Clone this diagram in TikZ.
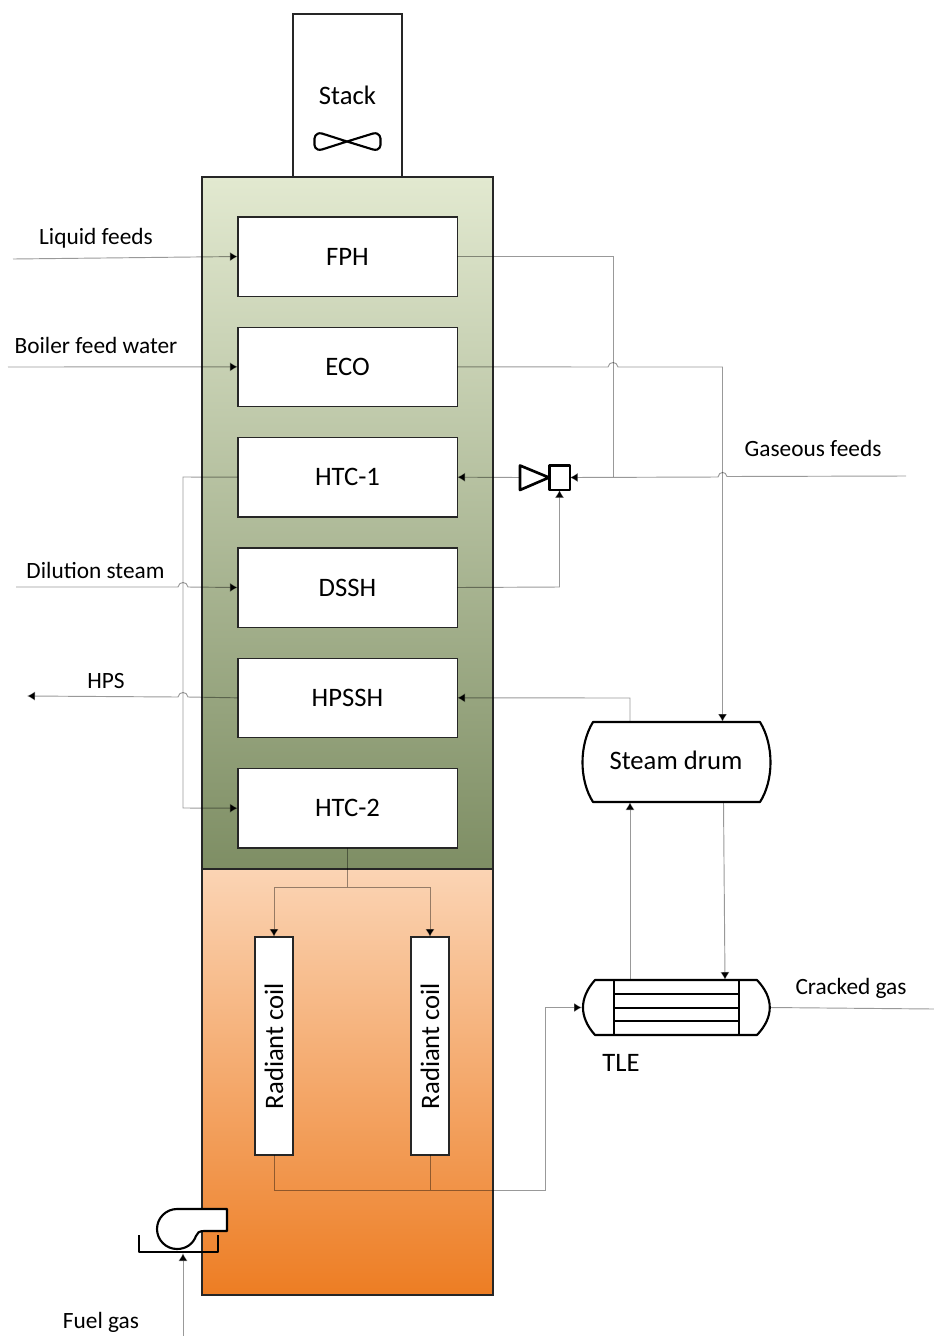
\documentclass[tikz,border=0pt]{standalone}
\usepackage{fontspec}
\setmainfont{Carlito}
\usetikzlibrary{positioning, arrows.meta, calc}
\definecolor{convtop}{RGB}{226,233,208}
\definecolor{convbottom}{RGB}{126,142,100}
\definecolor{radtop}{RGB}{251,212,180}
\definecolor{radbottom}{RGB}{237,125,35}

\begin{document}
\begin{tikzpicture}[
    x=0.75pt, y=-0.75pt,
    % Custom styles for the furnace blocks and labels
    section/.style={draw=black!85, line width=1pt, minimum width=218.25pt, inner sep=0pt, outer sep=0pt},
    block/.style={draw=black!85, fill=white, line width=1pt, minimum width=164.5pt, minimum height=59.5pt, inner sep=0pt, outer sep=0pt, font=\fontsize{20}{22}\selectfont},
    coil/.style={draw=black!85, fill=white, line width=1pt, minimum width=163.5pt, minimum height=28.5pt, inner sep=0pt, outer sep=0pt, rotate=90, font=\fontsize{20}{22}\selectfont},
    label/.style={font=\fontsize{17.5}{19}\selectfont},
    biglabel/.style={font=\fontsize{20}{22}\selectfont},
    % Thin grey pipes with solid black tips
    pipe/.style={draw=black, draw opacity=0.4, line width=0.7pt},
    feed/.style={pipe, -{Latex[black, length=6pt, width=7pt]}},
    equip/.style={draw=black, fill=white, line width=1.6pt, line join=round}
]
\useasboundingbox (0,0) rectangle (934,1336);

% ==========================================
% FURNACE: STACK AND SECTIONS
% ==========================================
\node[draw=black!85, line width=1pt, fill=white, minimum width=81.75pt, minimum height=122.25pt, inner sep=0pt] (stack) at (347.5,95.5) {};
\node[biglabel] (stack_title) at (347.5,95) {Stack};
\draw[equip, fill=none] (347,141.5) -- (322,133.5) .. controls (315,132) and (314,138) .. (314.5,141.5)
    .. controls (314,146) and (315,151) .. (322,149.5) -- (347,141.5) -- (373,133.5)
    .. controls (380,132) and (381,138) .. (380.5,141.5) .. controls (381,146) and (380,151) .. (373,149.5) -- cycle;

\node[section, minimum height=519pt, top color=convtop, bottom color=convbottom] (convection) at (347.5,523) {};
\node[section, minimum height=319.5pt, top color=radtop, bottom color=radbottom] (radiant) at (347.5,1082) {};

% ==========================================
% CONVECTION COILS
% ==========================================
\node[block] (FPH) at (347.5,256.5) {FPH};
\node[block, below=23.25pt of FPH] (ECO) {ECO};
\node[block, below=23.25pt of ECO] (HTC1) {HTC-1};
\node[block, below=23.25pt of HTC1] (DSSH) {DSSH};
\node[block, below=23.25pt of DSSH] (HPSSH) {HPSSH};
\node[block, below=23.25pt of HPSSH] (HTC2) {HTC-2};

% Radiant coils
\node[coil] (coil_left) at (274,1046) {Radiant coil};
\node[coil] (coil_right) at (430,1046) {Radiant coil};

% ==========================================
% EQUIPMENT ON THE RIGHT
% ==========================================
% Mixing valve
\node[equip, line width=2pt, minimum width=15.5pt, minimum height=18.5pt, inner sep=0pt, outer sep=0pt] (valve_box) at (559.5,477.5) {};
\draw[equip, line width=2pt] (520,465.5) -- (549,477.5) -- (520,490) -- cycle;
\coordinate (valve_in) at (520,477.5);

% Steam drum
\draw[equip] (593,722) -- (760,722) .. controls (774,745) and (774,780) .. (760,802)
    -- (593,802) .. controls (579,780) and (579,745) .. (593,722) -- cycle;
\node[biglabel] (drum) at (676,760) {Steam drum};

% TLE
\draw[equip] (595,980) -- (757,980) .. controls (774,998) and (774,1017) .. (757,1035)
    -- (595,1035) .. controls (579,1017) and (579,998) .. (595,980) -- cycle;
\draw[equip] (614,980) -- (614,1035);
\draw[equip] (738.9,980) -- (738.9,1035);
\draw[equip] (614,994) -- (738.9,994);
\draw[equip] (614,1008) -- (738.9,1008);
\draw[equip] (614,1021) -- (738.9,1021);
\node[biglabel] (tle) at (621,1063) {TLE};

% Blower and burner
\draw[equip] (177,1209) -- (227,1209) -- (227,1231) -- (204,1231) .. controls (199,1231) and (197,1233) .. (196,1236)
    .. controls (193,1244) and (186,1249) .. (177,1249) .. controls (166,1249) and (157,1240) .. (157,1229)
    .. controls (157,1218) and (166,1209) .. (177,1209) -- cycle;
\draw[equip, fill=none] (139,1235) -- (139,1252) -- (218,1252) -- (218,1235);

% ==========================================
% PIPES
% ==========================================
\coordinate (liquid_in) at (13,259);
\coordinate (bfw_in) at (8,367);
\coordinate (gas_in) at (906,476);
\coordinate (steam_in) at (16,587);
\coordinate (hps_out) at (27,696);
\coordinate (cracked_out) at (934,1009);
\coordinate (fuel_in) at (183,1336);

\draw[feed] (liquid_in) -- (FPH.west);
\draw[feed] (bfw_in) -- (ECO.west);
\draw[pipe] (FPH.east) -- (613,256.5) -- (613,477);
\draw[feed] (ECO.east) -- (608,367) .. controls (609,361) and (617,361) .. (618,367) -- (722.5,367) -- (722.5,722);
\draw[feed] (gas_in) -- (727,476.5) .. controls (726,471) and (719,471) .. (718,477) -- (valve_box.east);
\draw[feed] (valve_in) -- (HTC1.east);
\draw[feed] (DSSH.east) -- (559.5,587) -- (valve_box.south);
\draw[feed] (HTC1.west) -- (183,477) -- (183,808) -- (HTC2.west);
\draw[feed] (steam_in) -- (178,587) .. controls (179,581) and (187,581) .. (188,587) -- (DSSH.west);
\draw[feed] (HPSSH.west) -- (188,697) .. controls (187,691) and (179,691) .. (178,697) -- (hps_out);
\draw[feed] (630,722) -- (630,698) -- (HPSSH.east);
\draw[feed] (630,980) -- (630,802);
\draw[feed] (723.5,802) -- (725,980);
\draw[pipe] (770,1007.5) -- (cracked_out);

% Crossover and radiant outlet
\draw[pipe] (HTC2.south) -- (347.5,887);
\draw[feed] (347.5,887) -- (274,887) -- (coil_left.east);
\draw[feed] (347.5,887) -- (430,887) -- (coil_right.east);
\draw[feed] (coil_left.west) -- (274,1190) -- (545,1190) -- (545,1007.5) -- (582,1007.5);
\draw[pipe] (coil_right.west) -- (430,1190);
\draw[feed] (fuel_in) -- (183,1253);

% ==========================================
% STREAM LABELS
% ==========================================
\node[label] (liquid_label) at (96,238) {Liquid feeds};
\node[label] (bfw_label) at (96,345) {Boiler feed water};
\node[label] (gas_label) at (813,448) {Gaseous feeds};
\node[label] (steam_label) at (95.5,570) {Dilution steam};
\node[label] (hps_label) at (106,681) {HPS};
\node[label] (cracked_label) at (851,988) {Cracked gas};
\node[label] (fuel_label) at (101,1322) {Fuel gas};

\end{tikzpicture}
\end{document}
